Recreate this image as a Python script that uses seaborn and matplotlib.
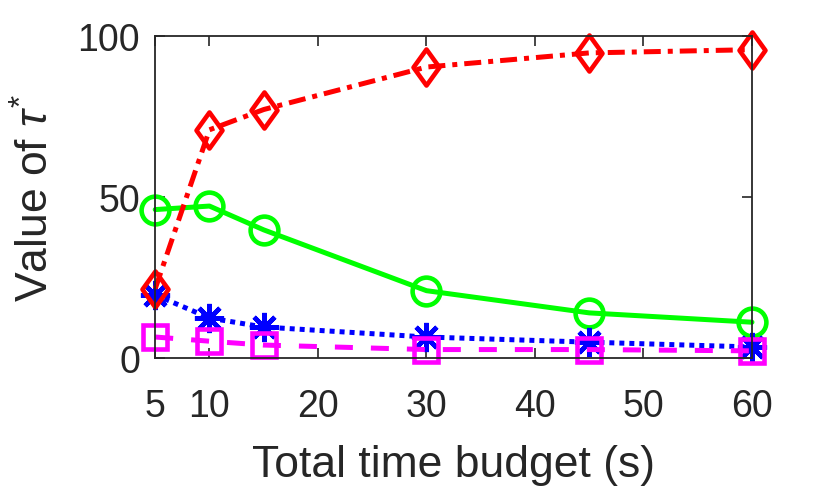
import numpy as np
import pandas as pd
import matplotlib
matplotlib.use("Agg")
import matplotlib.pyplot as plt
from matplotlib.path import Path
import seaborn as sns

# dati
budget = [5, 10, 15, 30, 45, 60]
red_vals = [21.5, 70.9, 77.2, 90.4, 94.8, 95.8]
green_vals = [46.1, 47.2, 39.8, 20.9, 14.0, 11.1]
blue_vals = [19.6, 12.4, 9.6, 6.5, 4.9, 3.4]
magenta_vals = [6.5, 5.2, 4.0, 2.6, 2.6, 2.2]
xticks = [5, 10, 20, 30, 40, 50, 60]
yticks = [0, 50, 100]

sns.set_style("ticks")
plt.rcParams['font.family'] = ['Liberation Sans', 'DejaVu Sans']
plt.rcParams['mathtext.fontset'] = 'custom'
plt.rcParams['mathtext.it'] = 'Liberation Sans:italic'
plt.rcParams['mathtext.rm'] = 'Liberation Sans'

diamond = Path([(0, 1), (0.72, 0), (0, -1), (-0.72, 0), (0, 1)],
               [Path.MOVETO, Path.LINETO, Path.LINETO, Path.LINETO, Path.CLOSEPOLY])

fig = plt.figure(figsize=(8.3, 4.89), dpi=100)
ax = fig.add_axes([0.187, 0.266, 0.719, 0.658])

# (valori, colore, stile linea, marker, dimensione, trattini)
series = [
    (green_vals, (0, 1, 0), '-', 'o', 20, None),
    (blue_vals, (0, 0, 1), ':', (8, 2, 0), 21, (1, 1)),
    (magenta_vals, (1, 0, 1), '--', 's', 17, (3.6, 3.6)),
    (red_vals, (1, 0, 0), '-.', diamond, 26, (3.4, 1.4, 1, 1.4)),
]
for vals, col, ls, mk, ms, dash in series:
    df = pd.DataFrame({'x': budget, 'y': vals})
    sns.lineplot(data=df, x='x', y='y', ax=ax, color=col, linestyle=ls,
                 linewidth=3.6, marker=mk, markersize=ms, markerfacecolor='none',
                 markeredgecolor=col, markeredgewidth=3.3, clip_on=False)
    if dash is not None:
        ax.lines[-1].set_dashes(dash)

ax.set_xlim(5, 60)
ax.set_ylim(0, 100)
ax.set_xticks(xticks)
ax.set_yticks(yticks)
ax.tick_params(direction='in', length=7, width=1.2, labelsize=27, colors='#262626',
               top=True, right=True)
ax.tick_params(axis='x', pad=22)
ax.tick_params(axis='y', pad=11)
for sp in ax.spines.values():
    sp.set_visible(True)
    sp.set_color('#262626')
    sp.set_linewidth(1.3)
ax.set_xlabel('Total time budget (s)', fontsize=32, color='#262626', labelpad=14)
ax.set_ylabel(r'Value of $\tau^{*}$', fontsize=32, color='#262626', labelpad=14)

fig.savefig('out.png', dpi=100)
